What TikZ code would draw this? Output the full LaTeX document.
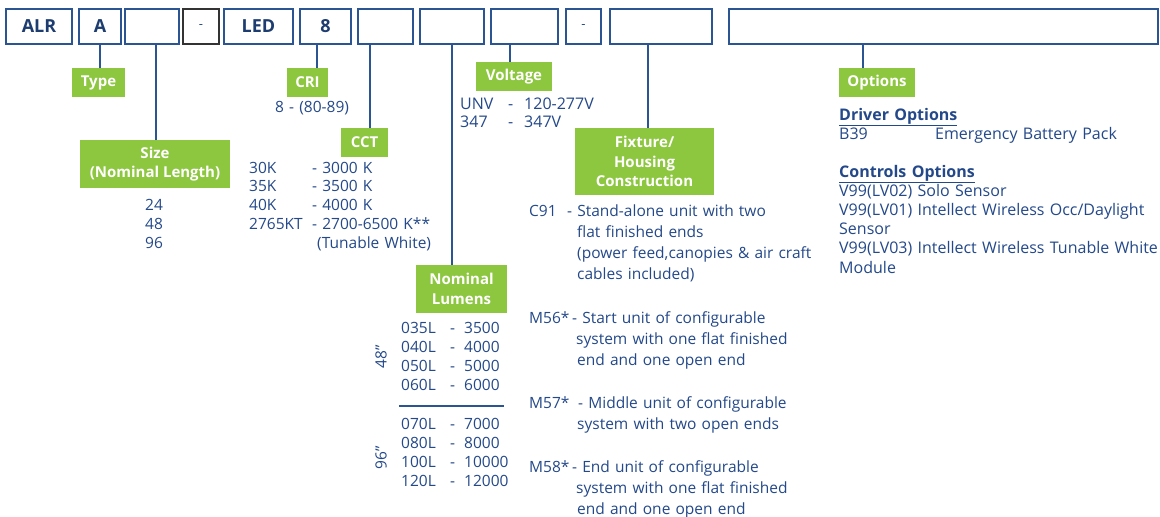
\documentclass[tikz,border=0pt]{standalone}
\usepackage{fontspec}
\setmainfont{Open Sans}
\usetikzlibrary{positioning,calc}
\definecolor{codeblue}{HTML}{2B5592}
\definecolor{inkblue}{HTML}{24498A}
\definecolor{darkblue}{HTML}{1D3D70}
\definecolor{tagfill}{HTML}{8DC63F}

\begin{document}
\begin{tikzpicture}[x=1pt, y=-1pt,
% Node styles
 codebox/.style={draw=codeblue, line width=1.5pt, minimum height=35pt, inner sep=0,
 font=\fontsize{18}{20}\selectfont\bfseries, text=darkblue},
 dashbox/.style={codebox, font=\fontsize{13}{16}\selectfont, text=inkblue},
 tagbox/.style={fill=tagfill, text=white, inner sep=0, align=center,
 font=\fontsize{15}{19.5}\selectfont\bfseries},
% Text styles
 txt/.style={inner sep=0, text=inkblue, font=\fontsize{15.5}{19}\selectfont},
 spec/.style={txt, anchor=base west, align=left, text width=#1},
 spec/.default=330pt,
% Edge styles
 conn/.style={draw=codeblue, line width=1.5pt}
]
\useasboundingbox[fill=white] (0,0) rectangle (1160,517);
% Code boxes
\node[codebox, minimum width=66pt] (alr) at (39,26.5) {ALR};
\node[codebox, minimum width=42pt] (typeB) at (100,26.5) {A};
\node[codebox, minimum width=54pt] (sizeB) at (152,26.5) {};
\node[dashbox, draw=black!80, minimum width=36pt] (dashA) at (201,26.5) {-};
\node[codebox, minimum width=69pt] (led) at (258.5,26.5) {LED};
\node[codebox, minimum width=51pt] (criB) at (325.5,26.5) {8};
\node[codebox, minimum width=55pt] (cctB) at (385.5,26.5) {};
\node[codebox, minimum width=64pt] (lumB) at (452,26.5) {};
\node[codebox, minimum width=67pt] (voltB) at (524.5,26.5) {};
\node[dashbox, minimum width=35pt] (dashB) at (583.5,26.5) {-};
\node[codebox, minimum width=102pt] (fixB) at (661,26.5) {};
\node[codebox, minimum width=429pt] (optB) at (943.5,26.5) {};
% Green tags
\node[tagbox, minimum width=53pt, minimum height=29pt] (typeT) at (98.5,82.5) {Type};
\node[tagbox, minimum width=150pt, minimum height=48pt] (sizeT) at (155,164) {Size\\(Nominal Length)};
\node[tagbox, minimum width=41pt, minimum height=29pt] (criT) at (307.5,82.5) {CRI};
\node[tagbox, minimum width=47pt, minimum height=29pt] (cctT) at (364.5,142.5) {CCT};
\node[tagbox, minimum width=91pt, minimum height=48pt] (lumT) at (461.5,289) {Nominal\\Lumens};
\node[tagbox, minimum width=76pt, minimum height=29pt] (voltT) at (514,76.5) {Voltage};
\node[tagbox, minimum width=139pt, minimum height=67pt] (fixT) at (644.5,161.5) {Fixture/\\Housing\\Construction};
\node[tagbox, minimum width=76pt, minimum height=29pt] (optT) at (877,82.5) {Options};
% Connectors
\coordinate (sizeX) at (156,0);
\coordinate (criX) at (317,0);
\coordinate (cctX) at (370,0);
\coordinate (voltX) at (510,0);
\coordinate (fixX) at (648,0);
\coordinate (optX) at (863,0);
\draw[conn] (typeB.south) -- (typeB.south |- typeT.north);
\draw[conn] (sizeB.south -| sizeX) -- (sizeT.north -| sizeX);
\draw[conn] (criB.south -| criX) -- (criT.north -| criX);
\draw[conn] (cctB.south -| cctX) -- (cctT.north -| cctX);
\draw[conn] (lumB.south) -- (lumB.south |- lumT.north);
\draw[conn] (voltB.south -| voltX) -- (voltT.north -| voltX);
\draw[conn] (fixB.south -| fixX) -- (fixT.north -| fixX);
\draw[conn] (optB.south -| optX) -- (optT.north -| optX);
% Size and CRI
\node[spec=40pt, align=center, anchor=base] (sizeL) at (154,210) {24\\48\\96};
\node[spec] (criL) at (275,112) {8 - (80-89)};
% CCT
\node[spec, font=\fontsize{15.5}{18.8}\selectfont] (cctCodes) at (249,173) {30K\\35K\\40K\\2765KT};
\node[spec, font=\fontsize{15.5}{18.8}\selectfont] (cctVals) at (312,173)
 {- 3000 K\\- 3500 K\\- 4000 K\\- 2700-6500 K**\\\hspace*{5pt}(Tunable White)};
% Voltage
\node[spec, font=\fontsize{16}{18}\selectfont] (voltCodes) at (460,109) {UNV\\347};
\node[spec, font=\fontsize{16}{18}\selectfont] (voltDash) at (508,109) {-\\-};
\node[spec, font=\fontsize{16}{18}\selectfont] (voltVals) at (524,109) {120-277V\\347V};
% Nominal lumens
\node[spec] (lumCodesA) at (401,333) {035L\\040L\\050L\\060L};
\node[spec] (lumDashA) at (450,333) {-\\-\\-\\-};
\node[spec] (lumValsA) at (464,333) {3500\\4000\\5000\\6000};
\draw[conn, line width=1.2pt] (399,406) -- (504,406);
\node[spec] (lumCodesB) at (401,429) {070L\\080L\\100L\\120L};
\node[spec] (lumDashB) at (450,429) {-\\-\\-\\-};
\node[spec] (lumValsB) at (464,429) {7000\\8000\\10000\\12000};
\node[txt, rotate=90] (len48) at (381,357) {48”};
\node[txt, rotate=90] (len96) at (381,458) {96”};
% Fixture / housing
\node[spec] (c91) at (529,216) {C91};
\node[spec, font=\fontsize{15.5}{21.3}\selectfont] (c91D) at (567,216)
 {- Stand-alone unit with two\\\hspace*{10pt}flat finished ends\\\hspace*{10pt}(power feed,canopies \& air craft\\\hspace*{10pt}cables included)};
\node[spec] (m56) at (529,323) {M56*};
\node[spec, font=\fontsize{15.5}{21.2}\selectfont] (m56D) at (572,323)
 {- Start unit of configurable\\\hspace*{4pt}system with one flat finished\\\hspace*{5pt}end and one open end};
\node[spec] (m57) at (529,408) {M57*};
\node[spec, font=\fontsize{15.5}{21.2}\selectfont] (m57D) at (577,408)
 {\hspace*{1pt}- Middle unit of configurable\\system with two open ends};
\node[spec] (m58) at (529,472) {M58*};
\node[spec, font=\fontsize{15.5}{21.2}\selectfont] (m58D) at (572,472)
 {- End unit of configurable\\\hspace*{4pt}system with one flat finished\\\hspace*{5pt}end and one open end};
% Options
\node[spec, font=\fontsize{16}{19}\selectfont] (drvL) at (839,120) {\underline{\textbf{Driver Options}}\\B39};
\node[spec, font=\fontsize{16}{19}\selectfont] (b39D) at (935,139) {Emergency Battery Pack};
\node[spec, font=\fontsize{16}{19.2}\selectfont] (ctlL) at (839,177)
 {\underline{\textbf{Controls Options}}\\V99(LV02) Solo Sensor\\V99(LV01) Intellect Wireless Occ/Daylight\\Sensor\\V99(LV03) Intellect Wireless Tunable White\\Module};
\end{tikzpicture}
\end{document}
